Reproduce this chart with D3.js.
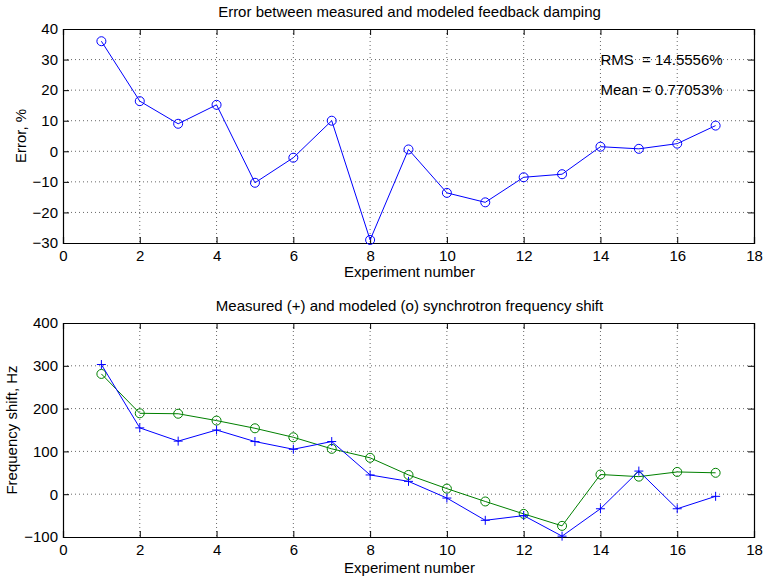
<!DOCTYPE html>
<html>
<head>
<meta charset="utf-8">
<script src="https://cdn.jsdelivr.net/npm/d3@7"></script>
<style>
  body { margin: 0; background: #fff; }
  svg { font-family: "Liberation Sans", Arial, sans-serif; }
</style>
</head>
<body>
<svg width="764" height="581"></svg>
<script>
// experiment numbers
const experiments = [1, 2, 3, 4, 5, 6, 7, 8, 9, 10, 11, 12, 13, 14, 15, 16, 17];
// error between measured and modeled damping, %
const dampingError = [36, 16.4, 9, 15.2, -10.3, -2.1, 10, -29, 0.6, -13.6, -16.7, -8.5, -7.5, 1.5, 0.8, 2.5, 8.4];
// synchrotron frequency shift, Hz
const measuredShift = [303, 155, 124, 150, 123, 105, 123, 45, 30, -9, -61, -50, -98, -34, 54, -34, -5];
const modeledShift = [281, 189, 188, 172, 154, 133, 106, 85, 45, 13, -17, -46, -74, 46, 41, 52, 50];

const xTicks = [0, 2, 4, 6, 8, 10, 12, 14, 16, 18];
const errTicks = [-30, -20, -10, 0, 10, 20, 30, 40];
const shiftTicks = [-100, 0, 100, 200, 300, 400];
const statsText = ["RMS  = 14.5556%", "Mean = 0.77053%"];

const svg = d3.select("svg");
const left = 63, right = 754;

function panel(opts) {
  const g = svg.append("g");
  const x = d3.scaleLinear().domain([0, 18]).range([left, right]);
  const y = d3.scaleLinear().domain(opts.yDomain).range([opts.bottom, opts.top]);

  // dotted grid
  g.append("g").selectAll("line")
    .data(xTicks.slice(1, -1))
    .join("line")
      .attr("x1", d => x(d)).attr("x2", d => x(d))
      .attr("y1", opts.top).attr("y2", opts.bottom)
      .attr("stroke", "#000").attr("stroke-width", 0.6)
      .attr("stroke-dasharray", "1,3");
  g.append("g").selectAll("line")
    .data(opts.yTicks.slice(1, -1))
    .join("line")
      .attr("x1", left).attr("x2", right)
      .attr("y1", d => y(d)).attr("y2", d => y(d))
      .attr("stroke", "#000").attr("stroke-width", 0.6)
      .attr("stroke-dasharray", "1,3");

  // axes with inward ticks, matlab box style
  const tick = 6;
  const axB = g.append("g").attr("transform", `translate(0,${opts.bottom})`)
    .call(d3.axisBottom(x).tickValues(xTicks).tickSize(-tick).tickPadding(7));
  const axT = g.append("g").attr("transform", `translate(0,${opts.top})`)
    .call(d3.axisTop(x).tickValues(xTicks).tickSize(-tick).tickFormat(""));
  const axL = g.append("g").attr("transform", `translate(${left},0)`)
    .call(d3.axisLeft(y).tickValues(opts.yTicks).tickSize(-tick).tickPadding(5)
      .tickFormat(d => d < 0 ? "\u2212" + Math.abs(d) : d));
  const axR = g.append("g").attr("transform", `translate(${right},0)`)
    .call(d3.axisRight(y).tickValues(opts.yTicks).tickSize(-tick).tickFormat(""));
  [axB, axT, axL, axR].forEach(a => {
    a.select(".domain").attr("stroke", "#000").attr("stroke-width", 1.2);
    a.selectAll("text").attr("font-size", 15).attr("fill", "#000").attr("font-family", "Liberation Sans, Arial, sans-serif");
  });

  // title and labels
  g.append("text")
    .attr("x", (left + right) / 2 + 1).attr("y", opts.top - 12)
    .attr("text-anchor", "middle").attr("font-size", 15)
    .text(opts.title);
  g.append("text")
    .attr("x", (left + right) / 2 + 1).attr("y", opts.bottom + opts.xlabelGap)
    .attr("text-anchor", "middle").attr("font-size", 15)
    .text("Experiment number");
  g.append("text")
    .attr("transform", `translate(${opts.ylabelX},${(opts.top + opts.bottom) / 2}) rotate(-90)`)
    .attr("text-anchor", "middle").attr("font-size", 15)
    .text(opts.ylabel);

  return {g, x, y};
}

// top: damping error
const p1 = panel({
  top: 29, bottom: 243, yDomain: [-30, 40], yTicks: errTicks,
  title: "Error between measured and modeled feedback damping",
  ylabel: "Error, %", ylabelX: 26, xlabelGap: 34
});
const line1 = d3.line().x((d, i) => p1.x(experiments[i])).y(d => p1.y(d));
p1.g.append("path").datum(dampingError)
  .attr("d", line1).attr("fill", "none").attr("stroke", "#0000ff").attr("stroke-width", 1);
p1.g.append("g").selectAll("circle")
  .data(dampingError)
  .join("circle")
    .attr("cx", (d, i) => p1.x(experiments[i])).attr("cy", d => p1.y(d))
    .attr("r", 4.5).attr("fill", "none").attr("stroke", "#0000ff").attr("stroke-width", 1);
p1.g.append("g").selectAll("text")
  .data(statsText)
  .join("text")
    .attr("x", p1.x(14)).attr("y", (d, i) => p1.y(30 - 10 * i))
    .attr("dy", "0.35em").attr("font-size", 15)
    .style("white-space", "pre")
    .text(d => d);

// bottom: frequency shift
const p2 = panel({
  top: 323, bottom: 537, yDomain: [-100, 400], yTicks: shiftTicks,
  title: "Measured (+) and modeled (o) synchrotron frequency shift",
  ylabel: "Frequency shift, Hz", ylabelX: 17, xlabelGap: 36
});
const line2 = d3.line().x((d, i) => p2.x(experiments[i])).y(d => p2.y(d));
p2.g.append("path").datum(modeledShift)
  .attr("d", line2).attr("fill", "none").attr("stroke", "#008000").attr("stroke-width", 1);
p2.g.append("g").selectAll("circle")
  .data(modeledShift)
  .join("circle")
    .attr("cx", (d, i) => p2.x(experiments[i])).attr("cy", d => p2.y(d))
    .attr("r", 4.5).attr("fill", "none").attr("stroke", "#008000").attr("stroke-width", 1);
p2.g.append("path").datum(measuredShift)
  .attr("d", line2).attr("fill", "none").attr("stroke", "#0000ff").attr("stroke-width", 1);
const plus = 4.5;
p2.g.append("g").selectAll("path")
  .data(measuredShift)
  .join("path")
    .attr("d", (d, i) => {
      const cx = p2.x(experiments[i]), cy = p2.y(d);
      return `M${cx - plus},${cy}H${cx + plus}M${cx},${cy - plus}V${cy + plus}`;
    })
    .attr("stroke", "#0000ff").attr("stroke-width", 1);
</script>
</body>
</html>
